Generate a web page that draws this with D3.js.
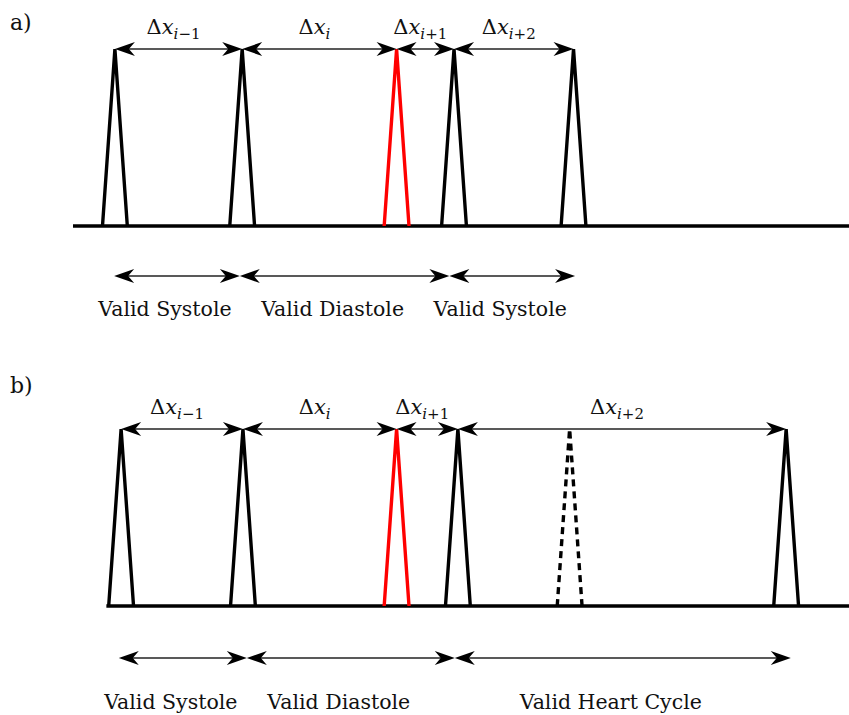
<!DOCTYPE html>
<html>
<head>
<meta charset="utf-8">
<script src="https://cdn.jsdelivr.net/npm/d3@7"></script>
<style>
  html, body { margin: 0; padding: 0; background: #fff; }
  svg { display: block; }
  text { font-family: "DejaVu Serif", "Liberation Serif", serif; fill: #111; }
</style>
</head>
<body>
<svg id="chart" width="849" height="715"></svg>
<script>
// Beat times (ms) on a shared time axis; 1 = detected peak amplitude
const peaksA = [54, 218, 417, 491, 645];
const kindsA = ["beat", "beat", "extra", "beat", "beat"];
const peaksB = [62, 219, 417, 496, 640, 919];
const kindsB = ["beat", "beat", "extra", "beat", "missed", "beat"];

// Baseline extent (ms)
const baselineA = [0, 1000];
const baselineB = [43, 1000];

// Interval subscripts for Δx labels
const deltaSubs = [["i", "−1"], ["i", ""], ["i", "+1"], ["i", "+2"]];

// Phase boundaries (ms) and their names
const phaseBoundsA = [53, 215, 485, 647];
const phaseNamesA = ["Valid Systole", "Valid Diastole", "Valid Systole"];
const phaseBoundsB = [59, 224, 492, 925];
const phaseNamesB = ["Valid Systole", "Valid Diastole", "Valid Heart Cycle"];

const peakHalfWidth = 16; // ms, half the base of each peak

const svg = d3.select("#chart");
const x = d3.scaleLinear().domain([0, 1000]).range([73, 849]);

const colors = { beat: "#000", extra: "#ff0000", missed: "#000" };

// stealth-style arrowhead, tip at origin, pointing toward -x
function headPath(len, hw, notch) {
  return `M0,0 L${len},${-hw} L${len - notch},0 L${len},${hw} Z`;
}
const HEAD = headPath(20, 7, 6);

function doubleArrow(g, x0, x1, y) {
  g.append("line")
    .attr("x1", x0 + 6).attr("x2", x1 - 6)
    .attr("y1", y).attr("y2", y)
    .attr("stroke", "#222").attr("stroke-width", 1.4);
  g.append("path").attr("d", HEAD)
    .attr("transform", `translate(${x0},${y})`).attr("fill", "#000");
  g.append("path").attr("d", HEAD)
    .attr("transform", `translate(${x1},${y}) rotate(180)`).attr("fill", "#000");
}

function drawPanel(opt) {
  const g = svg.append("g");
  const y = d3.scaleLinear().domain([0, 1]).range([opt.baseY, opt.apexY]);

  g.append("text").attr("x", 10).attr("y", opt.tagY)
    .attr("font-size", 22).text(opt.tag);

  // baseline
  g.append("line")
    .attr("x1", x(opt.baseline[0])).attr("x2", x(opt.baseline[1]))
    .attr("y1", y(0)).attr("y2", y(0))
    .attr("stroke", "#000").attr("stroke-width", 3.5);

  // peaks
  const line = d3.line().x(d => x(d[0])).y(d => y(d[1]));
  g.selectAll("path.peak").data(opt.peaks).enter().append("path")
    .attr("class", "peak")
    .attr("d", t => line([[t - peakHalfWidth, 0], [t, 1], [t + peakHalfWidth, 0]]))
    .attr("fill", "none")
    .attr("stroke", (t, i) => colors[opt.kinds[i]])
    .attr("stroke-width", 3.4)
    .attr("stroke-linejoin", "miter")
    .attr("stroke-dasharray", (t, i) => opt.kinds[i] === "missed" ? "7,5" : null);

  // Δx intervals between recorded beats
  const recorded = opt.peaks.filter((t, i) => opt.kinds[i] !== "missed");
  const top = y(1);
  deltaSubs.forEach((sub, i) => {
    const a = recorded[i], b = recorded[i + 1];
    doubleArrow(g, x(a), x(b), top);
    const t = g.append("text")
      .attr("x", (x(a) + x(b)) / 2 - 5)
      .attr("y", top - 15)
      .attr("text-anchor", "middle")
      .attr("font-size", 21);
    t.append("tspan").text("Δ");
    t.append("tspan").attr("font-style", "italic").text("x");
    t.append("tspan").attr("font-style", "italic").attr("font-size", 15).attr("dy", 5).text(sub[0]);
    if (sub[1]) t.append("tspan").attr("font-size", 15).text(sub[1]);
  });

  // phase annotations
  opt.names.forEach((name, i) => {
    const a = x(opt.bounds[i]), b = x(opt.bounds[i + 1]);
    doubleArrow(g, a, b, opt.phaseY);
    g.append("text")
      .attr("x", (a + b) / 2 - 12)
      .attr("y", opt.phaseLabelY)
      .attr("text-anchor", "middle")
      .attr("font-size", 20.5)
      .text(name);
  });
}

drawPanel({
  tag: "a)", tagY: 30,
  baseY: 226, apexY: 49,
  baseline: baselineA, peaks: peaksA, kinds: kindsA,
  bounds: phaseBoundsA, names: phaseNamesA,
  phaseY: 276, phaseLabelY: 316
});

drawPanel({
  tag: "b)", tagY: 393,
  baseY: 606, apexY: 429,
  baseline: baselineB, peaks: peaksB, kinds: kindsB,
  bounds: phaseBoundsB, names: phaseNamesB,
  phaseY: 658, phaseLabelY: 709
});
</script>
</body>
</html>
